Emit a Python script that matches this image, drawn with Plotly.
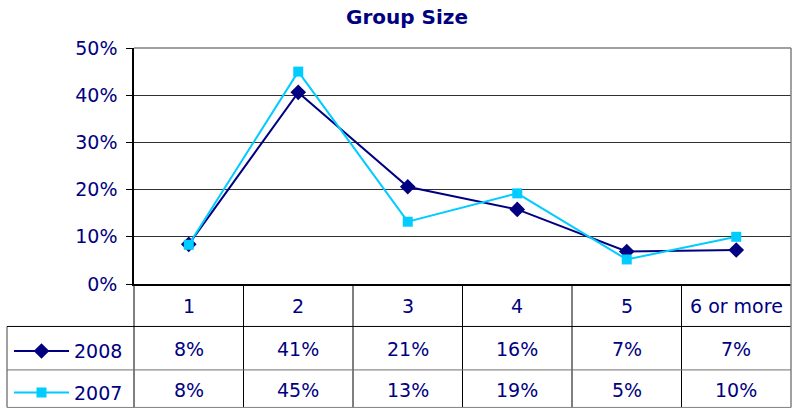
import plotly.graph_objects as go

categories = ["1", "2", "3", "4", "5", "6 or more"]
values_2008 = [0.084, 0.406, 0.206, 0.158, 0.069, 0.072]
values_2007 = [0.083, 0.450, 0.132, 0.192, 0.052, 0.100]
y_ticks = [0, 0.1, 0.2, 0.3, 0.4, 0.5]

NAVY = "#000080"
CYAN = "#00CCFF"
FONT = "DejaVu Sans"
W, H = 795, 415
ML, MR, MT, MB = 134, 4, 48, 128
PW, PH = W - ML - MR, H - MT - MB


def px_to_py(py):
    return (H - MB - py) / PH


def px_to_px(px):
    return (px - ML) / PW


fig = go.Figure()
fig.add_trace(go.Scatter(
    x=categories, y=values_2008, name="2008", mode="lines+markers",
    line=dict(color=NAVY, width=2),
    marker=dict(symbol="diamond", size=12, color=NAVY),
    legend="legend", cliponaxis=False,
))
fig.add_trace(go.Scatter(
    x=categories, y=values_2007, name="2007", mode="lines+markers",
    line=dict(color=CYAN, width=2),
    marker=dict(symbol="square", size=10, color=CYAN),
    legend="legend2", cliponaxis=False,
))

shapes = []
ann = []
y_head = px_to_py(309)
rows = [(values_2008, px_to_py(353)), (values_2007, px_to_py(394))]
y330, y374, y412 = px_to_py(330), px_to_py(374), px_to_py(412)
x7 = px_to_px(7)

# header and cells (x = category index on the category axis)
for i, c in enumerate(categories):
    ann.append(dict(x=i, y=y_head, xref="x", yref="paper", text=c, showarrow=False,
                    font=dict(family=FONT, size=19, color=NAVY), yanchor="middle"))
    for vals, yy in rows:
        ann.append(dict(x=i, y=yy, xref="x", yref="paper", text=f"{vals[i]*100:.0f}%",
                        showarrow=False, font=dict(family=FONT, size=19, color=NAVY),
                        yanchor="middle"))

# vertical column separators
for i in range(len(categories) - 1):
    shapes.append(dict(type="line", xref="x", yref="paper", x0=i + 0.5, x1=i + 0.5,
                       y0=0, y1=y412, line=dict(color="black", width=1)))
# left axis continuation and left table edge
shapes.append(dict(type="line", xref="paper", yref="paper", x0=0, x1=0, y0=0, y1=y412,
                   line=dict(color="black", width=1)))
shapes.append(dict(type="line", xref="paper", yref="paper", x0=x7, x1=x7, y0=y330, y1=y412,
                   line=dict(color="#404040", width=1)))
# horizontal table lines
shapes.append(dict(type="line", xref="paper", yref="paper", x0=x7, x1=1, y0=y330, y1=y330,
                   line=dict(color="black", width=1)))
shapes.append(dict(type="line", xref="paper", yref="paper", x0=x7, x1=1, y0=y374, y1=y374,
                   line=dict(color="#707070", width=1)))
shapes.append(dict(type="line", xref="paper", yref="paper", x0=x7, x1=1, y0=y412, y1=y412,
                   line=dict(color="#808080", width=1)))
# plot border top / right
shapes.append(dict(type="line", xref="paper", yref="paper", x0=0, x1=1, y0=1, y1=1,
                   line=dict(color="#808080", width=1.5), layer="above"))
shapes.append(dict(type="line", xref="paper", yref="paper", x0=1, x1=1, y0=y412, y1=1,
                   line=dict(color="#808080", width=1.5), layer="above"))

legend_common = dict(font=dict(family=FONT, size=19, color=NAVY), bgcolor="rgba(0,0,0,0)",
                     borderwidth=0, xanchor="left", yanchor="middle", itemwidth=55,
                     tracegroupgap=0)

fig.update_layout(
    width=W, height=H,
    margin=dict(l=ML, r=MR, t=MT, b=MB),
    paper_bgcolor="white", plot_bgcolor="white",
    title=dict(text="<b>Group Size</b>", x=0.512, xref="container", xanchor="center",
               y=1 - 17 / H, yanchor="middle", font=dict(family=FONT, size=20, color=NAVY)),
    xaxis=dict(type="category", range=[-0.5, len(categories) - 0.5], showticklabels=False,
               showgrid=False, showline=True, linecolor="black", linewidth=1.5,
               ticks="", zeroline=False),
    yaxis=dict(range=[0, 0.5], tickvals=y_ticks, tickformat=".0%", showgrid=True,
               gridcolor="#303030", gridwidth=1, showline=True, linecolor="black",
               linewidth=1.5, ticks="outside", ticklen=6, tickcolor="black",
               ticklabelstandoff=5, zeroline=False,
               tickfont=dict(family=FONT, size=19, color=NAVY)),
    shapes=shapes,
    annotations=ann,
    showlegend=True,
    legend=dict(x=px_to_px(9), y=px_to_py(355), **legend_common),
    legend2=dict(x=px_to_px(9), y=px_to_py(397), **legend_common),
)

fig.write_html("out.html")
